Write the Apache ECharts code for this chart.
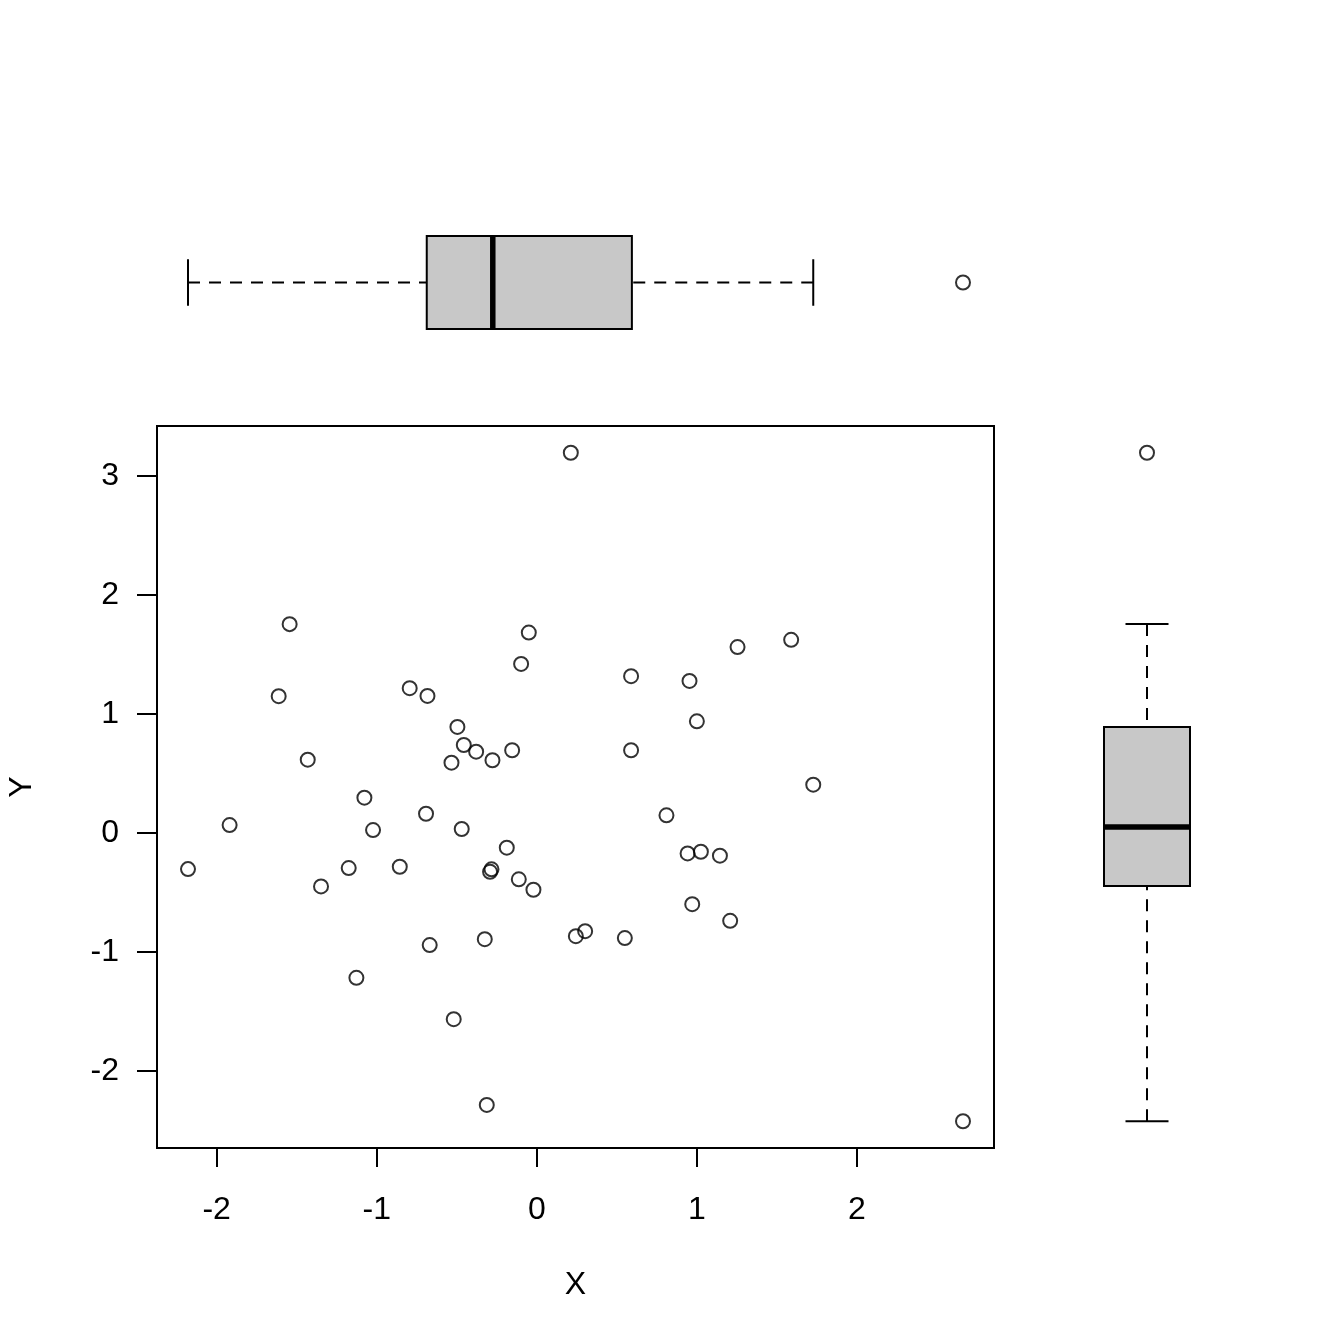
<!DOCTYPE html>
<html><head><meta charset="utf-8">
<script src="https://cdn.jsdelivr.net/npm/echarts@6/dist/echarts.min.js"></script>
<style>html,body{margin:0;padding:0;background:#fff}#c{width:1344px;height:1344px}</style>
</head><body><div id="c"></div>
<script>
// ---- data ----
const xValues = [0.2125, -1.544, -1.6125, -1.431, -1.919, -2.179, -1.077, -1.023, -1.175, -1.348,
  -0.856, -1.127, -0.794, -0.683, -0.692, -0.669, -0.496, -0.456, -0.379, -0.533,
  -0.277, -0.469, -0.154, -0.05, -0.098, -0.1875, -0.283, -0.292, -0.1125, -0.021,
  -0.325, -0.519, -0.3125, 0.244, 0.302, 0.55, 0.589, 0.589, 0.81, 0.954,
  1.0, 0.942, 1.025, 1.144, 0.971, 1.208, 1.254, 1.589, 1.727, 2.6625];
const yValues = [3.193, 1.754, 1.149, 0.616, 0.067, -0.303, 0.297, 0.025, -0.294, -0.448,
  -0.283, -1.216, 1.216, 1.151, 0.162, -0.941, 0.891, 0.739, 0.683, 0.591,
  0.611, 0.034, 0.695, 1.683, 1.42, -0.123, -0.305, -0.326, -0.389, -0.476,
  -0.891, -1.563, -2.283, -0.866, -0.824, -0.882, 1.317, 0.695, 0.149, 1.277,
  0.938, -0.171, -0.157, -0.19, -0.597, -0.737, 1.561, 1.622, 0.406, -2.42];
const xTicks = [-2, -1, 0, 1, 2];
const yTicks = [-2, -1, 0, 1, 2, 3];
// boxplot stats: [lower whisker, Q1, median, Q3, upper whisker]
const xBoxStats = [-2.179, -0.6875, -0.275, 0.594, 1.727];
const xOutliers = [2.6625];
const yBoxStats = [-2.42, -0.445, 0.05, 0.891, 1.756];
const yOutliers = [3.193];
const xAxisTitle = 'X';
const yAxisTitle = 'Y';

const FONT = '"Liberation Sans", Arial, sans-serif';
const LW = 2;
function padRange(arr) {
  const mn = Math.min(...arr), mx = Math.max(...arr), d = (mx - mn) * 0.04;
  return [mn - d, mx + d];
}
const [xMin, xMax] = padRange(xValues);
const [yMin, yMax] = padRange(yValues);
const points = xValues.map((x, i) => [x, yValues[i]]);

function makeBoxRender(horizontal) {
  return function (params, api) {
    const c = api.value(0);
    const vals = [api.value(1), api.value(2), api.value(3), api.value(4), api.value(5)];
    const P = v => horizontal ? api.coord([v, c]) : api.coord([c, v]);
    const band = horizontal ? api.size([0, 1])[1] : api.size([1, 0])[0];
    const hb = band / 2, hc = band / 4;
    const p = vals.map(P);
    const line = (x1, y1, x2, y2, style) => ({ type: 'line', shape: { x1, y1, x2, y2 }, style });
    const dash = { stroke: '#000', lineWidth: LW, lineDash: [12, 9], fill: null };
    const solid = { stroke: '#000', lineWidth: LW, fill: null };
    const boxStyle = { fill: '#C8C8C8', stroke: '#000', lineWidth: LW };
    const medStyle = { stroke: '#000', lineWidth: 5.5, fill: null };
    const ch = [];
    if (horizontal) {
      const y = p[0][1];
      ch.push(line(p[0][0], y, p[1][0], y, dash));
      ch.push(line(p[4][0], y, p[3][0], y, dash));
      ch.push(line(p[0][0], y - hc, p[0][0], y + hc, solid));
      ch.push(line(p[4][0], y - hc, p[4][0], y + hc, solid));
      ch.push({ type: 'rect', shape: { x: p[1][0], y: y - hb, width: p[3][0] - p[1][0], height: 2 * hb }, style: boxStyle });
      ch.push(line(p[2][0], y - hb, p[2][0], y + hb, medStyle));
    } else {
      const x = p[0][0];
      ch.push(line(x, p[0][1], x, p[1][1], dash));
      ch.push(line(x, p[4][1], x, p[3][1], dash));
      ch.push(line(x - hc, p[0][1], x + hc, p[0][1], solid));
      ch.push(line(x - hc, p[4][1], x + hc, p[4][1], solid));
      ch.push({ type: 'rect', shape: { x: x - hb, y: p[3][1], width: 2 * hb, height: p[1][1] - p[3][1] }, style: boxStyle });
      ch.push(line(x - hb, p[2][1], x + hb, p[2][1], medStyle));
    }
    return { type: 'group', children: ch };
  };
}

const circleStyle = { color: 'rgba(0,0,0,0)', borderColor: '#000', borderWidth: LW };
const labelStyle = { fontSize: 32, color: '#000', fontFamily: FONT };
const SYM = 14;

const option = {
  animation: false,
  backgroundColor: '#fff',
  grid: [
    { left: 157, top: 426, width: 837, height: 722, show: true, borderColor: '#000', borderWidth: LW, backgroundColor: 'transparent' },
    { left: 157, top: 236, width: 837, height: 93 },
    { left: 1104, top: 426, width: 86, height: 722 }
  ],
  xAxis: [
    { gridIndex: 0, type: 'value', min: xMin, max: xMax, splitLine: { show: false },
      axisLine: { show: false, onZero: false },
      axisTick: { show: true, inside: false, length: 19, customValues: xTicks, lineStyle: { color: '#000', width: LW } },
      axisLabel: Object.assign({ customValues: xTicks, margin: 46 }, labelStyle) },
    { gridIndex: 1, type: 'value', min: xMin, max: xMax, show: false },
    { gridIndex: 2, type: 'category', data: [yAxisTitle], show: false }
  ],
  yAxis: [
    { gridIndex: 0, type: 'value', min: yMin, max: yMax, splitLine: { show: false },
      axisLine: { show: false, onZero: false },
      axisTick: { show: true, inside: false, length: 20, customValues: yTicks, lineStyle: { color: '#000', width: LW } },
      axisLabel: Object.assign({ customValues: yTicks, margin: 38 }, labelStyle) },
    { gridIndex: 1, type: 'category', data: [xAxisTitle], show: false },
    { gridIndex: 2, type: 'value', min: yMin, max: yMax, show: false }
  ],
  series: [
    { type: 'scatter', xAxisIndex: 0, yAxisIndex: 0, data: points, symbol: 'circle', symbolSize: SYM, itemStyle: circleStyle },
    { type: 'custom', xAxisIndex: 1, yAxisIndex: 1, renderItem: makeBoxRender(true),
      encode: { x: [1, 2, 3, 4, 5], y: 0 }, data: [[0].concat(xBoxStats)] },
    { type: 'scatter', xAxisIndex: 1, yAxisIndex: 1, data: xOutliers.map(v => [v, 0]), symbol: 'circle', symbolSize: SYM, itemStyle: circleStyle },
    { type: 'custom', xAxisIndex: 2, yAxisIndex: 2, renderItem: makeBoxRender(false),
      encode: { x: 0, y: [1, 2, 3, 4, 5] }, data: [[0].concat(yBoxStats)] },
    { type: 'scatter', xAxisIndex: 2, yAxisIndex: 2, data: yOutliers.map(v => [0, v]), symbol: 'circle', symbolSize: SYM, itemStyle: circleStyle }
  ],
  graphic: [
    { type: 'text', x: 575.5, y: 1285, style: { text: xAxisTitle, font: '32px ' + FONT, fill: '#000', align: 'center', verticalAlign: 'middle' } },
    { type: 'text', x: 22, y: 787, rotation: Math.PI / 2, style: { text: yAxisTitle, font: '32px ' + FONT, fill: '#000', align: 'center', verticalAlign: 'middle' } }
  ]
};
const chart = echarts.init(document.getElementById('c'), null, { renderer: 'canvas' });
chart.setOption(option);
</script>
</body></html>
